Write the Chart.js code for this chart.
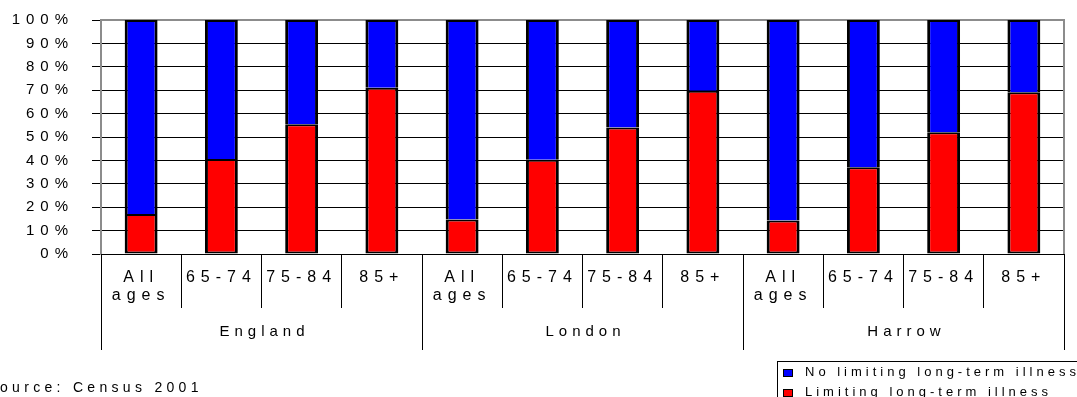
<!DOCTYPE html>
<html>
<head>
<meta charset="utf-8">
<script src="https://cdn.jsdelivr.net/npm/chart.js@4/dist/chart.umd.min.js"></script>
<style>
  html, body { margin: 0; padding: 0; background: #fff; }
  #wrap { width: 1077px; height: 397px; position: relative; overflow: hidden; }
  canvas { display: block; }
</style>
</head>
<body>
<div id="wrap"><canvas id="c" width="1077" height="397"></canvas></div>
<script>
// Areas and age bands shown along the x axis
const areas = ['England', 'London', 'Harrow'];
const ageBands = [['All', 'ages'], '65-74', '75-84', '85+'];
const categories = areas.flatMap(() => ageBands);

// Share of residents (%) per area / age band
const limiting   = [17.1, 40.6, 55.5, 71.1, 14.7, 40.3, 54.1, 69.8, 14.3, 37.1, 52.0, 69.1];
const noLimiting = [82.9, 59.4, 44.5, 28.9, 85.3, 59.7, 45.9, 30.2, 85.7, 62.9, 48.0, 30.9];

const seriesNames = ['No limiting long-term illness', 'Limiting long-term illness'];
const sourceNote = 'Source: Census 2001';

const FONT = "'Liberation Sans', Arial, Helvetica, sans-serif";

const decor = {
  id: 'decor',
  beforeDraw(chart) {
    chart.ctx.letterSpacing = '6px';
  },
  beforeDatasetsDraw(chart) {
    const { ctx, chartArea: a } = chart;
    ctx.save();
    ctx.strokeStyle = '#8c8c8c';
    ctx.lineWidth = 2;
    ctx.beginPath();
    ctx.moveTo(a.left, a.top);
    ctx.lineTo(a.right, a.top);
    ctx.lineTo(a.right, a.bottom);
    ctx.stroke();
    ctx.restore();
  },
  afterDraw(chart) {
    const { ctx, chartArea: a, scales: { x } } = chart;
    ctx.save();
    ctx.letterSpacing = '0px';

    // area dividers below the axis
    ctx.strokeStyle = '#000';
    ctx.lineWidth = 1;
    const per = ageBands.length;
    for (let g = 0; g <= areas.length; g++) {
      const px = Math.round(x.getPixelForValue(g * per - 0.5)) + 0.5;
      ctx.beginPath();
      ctx.moveTo(px, a.bottom);
      ctx.lineTo(px, 350);
      ctx.stroke();
    }

    // area names
    ctx.fillStyle = '#000';
    ctx.font = `15px ${FONT}`;
    ctx.letterSpacing = '5px';
    ctx.textAlign = 'center';
    ctx.textBaseline = 'middle';
    areas.forEach((name, g) => {
      const l = x.getPixelForValue(g * per - 0.5);
      const r = x.getPixelForValue(g * per + per - 0.5);
      ctx.fillText(name, (l + r) / 2 + 3, 332);
    });

    // source note
    ctx.font = `14px ${FONT}`;
    ctx.letterSpacing = '4.3px';
    ctx.textAlign = 'left';
    ctx.textBaseline = 'alphabetic';
    ctx.fillText(sourceNote, -13.6, 392);

    // legend
    const ds = chart.data.datasets;
    const entries = [ds[1], ds[0]];
    ctx.lineWidth = 1;
    ctx.strokeStyle = '#000';
    ctx.strokeRect(777.5, 361.5, 330, 60);
    ctx.font = `13px ${FONT}`;
    ctx.letterSpacing = '4px';
    entries.forEach((d, i) => {
      const yTop = 369 + i * 20;
      ctx.fillStyle = d.backgroundColor;
      ctx.fillRect(783, yTop, 9, 7);
      ctx.strokeRect(783.5, yTop + 0.5, 9, 7);
      ctx.fillStyle = '#000';
      ctx.fillText(d.label, 805, 376 + i * 20);
    });
    ctx.restore();
  }
};

new Chart(document.getElementById('c'), {
  type: 'bar',
  data: {
    labels: categories,
    datasets: [
      {
        label: seriesNames[1],
        data: limiting,
        backgroundColor: '#ff0000',
        borderColor: '#000',
        borderWidth: { left: 3, right: 3, top: 2, bottom: 2 },
        borderSkipped: false
      },
      {
        label: seriesNames[0],
        data: noLimiting,
        backgroundColor: '#0000ff',
        borderColor: '#000',
        borderWidth: { left: 3, right: 3, top: 2, bottom: 0 },
        borderSkipped: false
      }
    ]
  },
  options: {
    responsive: false,
    animation: false,
    layout: { padding: { top: 20, right: 13, left: 0, bottom: 0 } },
    plugins: { legend: { display: false }, tooltip: { enabled: false } },
    datasets: { bar: { categoryPercentage: 1, barPercentage: 0.41 } },
    scales: {
      x: {
        stacked: true,
        grid: { offset: true, drawOnChartArea: false, tickLength: 54, color: '#000', lineWidth: 1 },
        border: { color: '#000', width: 1 },
        ticks: {
          autoSkip: false, maxRotation: 0, minRotation: 0, padding: -40,
          color: '#000', font: { family: FONT, size: 16, lineHeight: 1.15 }
        },
        afterFit(s) { s.height = 143; s.paddingLeft = 0; s.paddingRight = 0; }
      },
      y: {
        stacked: true,
        min: 0,
        max: 100,
        ticks: {
          stepSize: 10, padding: 18, color: '#000',
          font: { family: FONT, size: 15 },
          callback: v => v + '%'
        },
        grid: {
          color: c => (c.tick && c.tick.value === 100) ? '#8c8c8c' : '#000',
          tickColor: '#000',
          tickLength: 9,
          lineWidth: 1
        },
        border: { color: '#8c8c8c', width: 2 },
        afterFit(s) { s.width = 101; s.paddingTop = 0; s.paddingBottom = 0; }
      }
    }
  },
  plugins: [decor]
});
</script>
</body>
</html>
